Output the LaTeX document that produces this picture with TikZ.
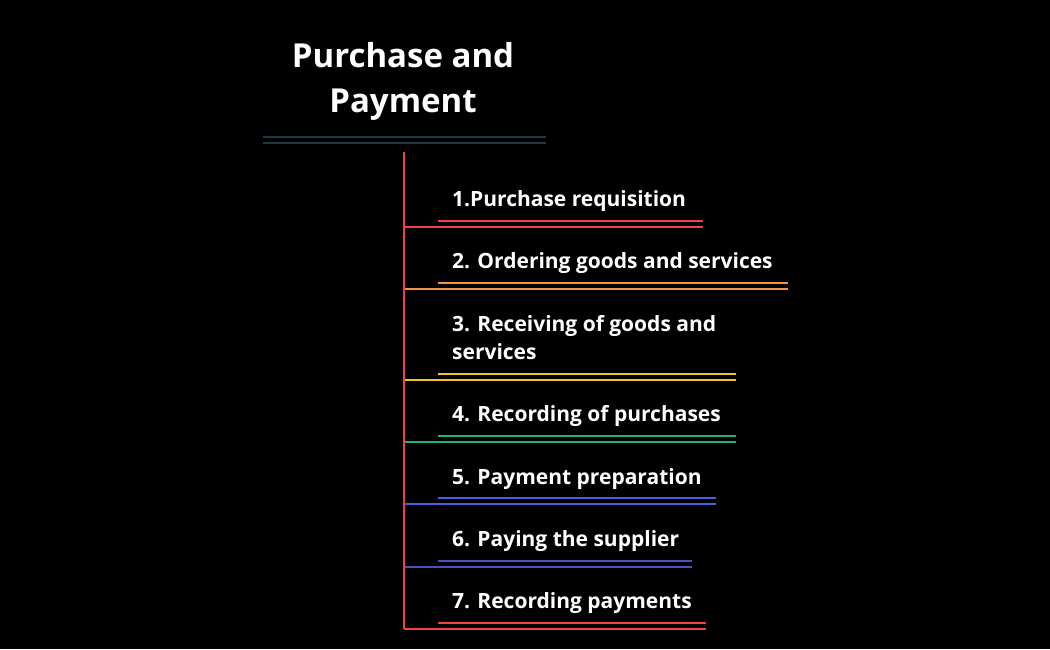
\documentclass[tikz,border=0pt]{standalone}
\usepackage{fontspec}
\setmainfont{Open Sans}
\definecolor{bg}{HTML}{000000}
\definecolor{ttl}{HTML}{1B3A42}
\definecolor{cred}{HTML}{F0443A}
\definecolor{corange}{HTML}{F2923E}
\definecolor{cyellow}{HTML}{F4C51C}
\definecolor{cgreen}{HTML}{1AB27C}
\definecolor{cblue}{HTML}{4460E6}
\definecolor{cindigo}{HTML}{4E50C2}
\tikzset{
  itemtext/.style={anchor=base west, inner sep=0pt, text=white, font=\fontsize{21}{28}\selectfont\bfseries, align=left},
  titletext/.style={inner sep=0pt, text=white, font=\fontsize{33}{45}\selectfont\bfseries, align=center},
  rule/.style={line width=2pt},
}
\begin{document}
\begin{tikzpicture}[x=1pt,y=-1pt]
\fill[bg] (0,0) rectangle (1050,649);
\useasboundingbox (0,0) rectangle (1050,649);
% title (base anchor = baseline of last line)
\node[titletext, anchor=base] (title) at (403,112) {Purchase and\\Payment};
\coordinate (tl1) at (263,137); \coordinate (tr1) at (546,137);
\coordinate (tl2) at (263,143); \coordinate (tr2) at (546,143);
\draw[rule, ttl] (tl1) -- (tr1);
\draw[rule, ttl] (tl2) -- (tr2);
% spine
\coordinate (top) at (404,152);
\coordinate (bot) at (404,629);
% items
\foreach \n/\txt/\yb/\yu/\xe/\col in {
  1/{1.Purchase requisition}/206/221/703/cred,
  2/{2. Ordering goods and services}/268/283/788/corange,
  3/{3. Receiving of goods and\\services}/359/374/736/cyellow,
  4/{4. Recording of purchases}/421/436/736/cgreen,
  5/{5. Payment preparation}/484/498/716/cblue,
  6/{6. Paying the supplier}/546/561/692/cindigo,
  7/{7. Recording payments}/608/623/706/cred}{
  \node[itemtext] (i\n) at (452,\yb) {\txt};
  \coordinate (u\n a) at (438,\yu);
  \coordinate (u\n b) at (\xe,\yu);
  \coordinate (l\n a) at (404,\yu+6);
  \coordinate (l\n b) at (\xe,\yu+6);
  \draw[rule, \col] (u\n a) -- (u\n b);
  \draw[rule, \col] (l\n a) -- (l\n b);
}
\draw[rule, cred] (top) -- (bot);
\end{tikzpicture}
\end{document}
